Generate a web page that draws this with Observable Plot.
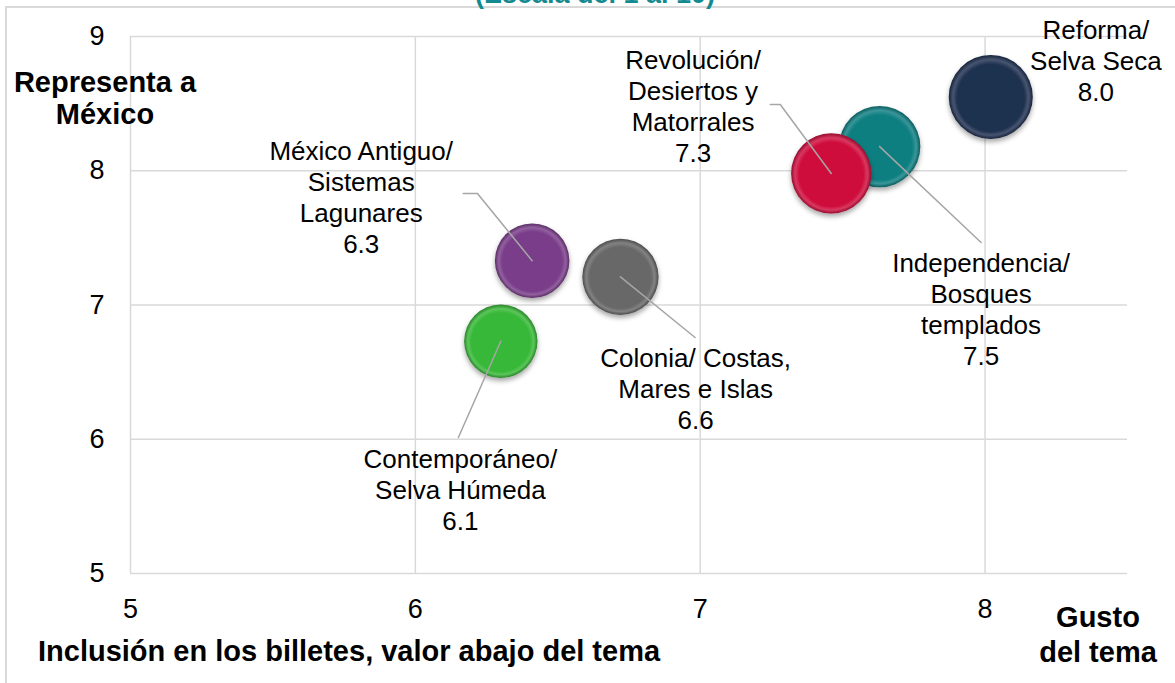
<!DOCTYPE html>
<html><head><meta charset="utf-8">
<script src="https://cdn.jsdelivr.net/npm/d3@7"></script>
<script src="https://cdn.jsdelivr.net/npm/@observablehq/plot@0.6"></script>
<style>
body{margin:0;background:#fff;font-family:Arial,"Liberation Sans",sans-serif;}
#wrap{position:relative;width:1175px;height:683px;overflow:hidden;}
.frame{position:absolute;left:5px;top:6px;right:-5px;bottom:-5px;border-left:2px solid #d9d9d9;border-top:2px solid #d9d9d9;}
.t{position:absolute;color:#000;font-weight:bold;white-space:nowrap;line-height:1;}
#chart{position:absolute;left:0;top:0;}
</style></head>
<body>
<div id="wrap">
  <div class="frame"></div>
  <div class="t" style="left:595px;top:-19px;transform:translateX(-50%);font-size:27px;color:#138a8f;">(Escala del 1 al 10)</div>
  <div id="chart"></div>
  <div class="t" style="left:105px;top:66px;transform:translateX(-50%);font-size:29px;text-align:center;line-height:32px;">Representa a<br>México</div>
  <div class="t" style="left:38px;top:637px;font-size:29px;">Inclusión en los billetes, valor abajo del tema</div>
  <div class="t" style="left:1098px;top:600px;transform:translateX(-50%);font-size:29px;text-align:center;line-height:35px;">Gusto<br>del tema</div>
</div>
<script>
// Data (draw order: red drawn over teal)
const temas = [
  "México Antiguo/\nSistemas\nLagunares",
  "Colonia/ Costas,\nMares e Islas",
  "Contemporáneo/\nSelva Húmeda",
  "Independencia/\nBosques\ntemplados",
  "Revolución/\nDesiertos y\nMatorrales",
  "Reforma/\nSelva Seca"
];
const gusto      = [6.41, 6.72, 6.30, 7.63, 7.46, 8.02];   // x
const representa = [7.33, 7.21, 6.73, 8.18, 7.98, 8.55];   // y
const inclusion  = [6.3, 6.6, 6.1, 7.5, 7.3, 8.0];         // bubble size / value shown
const colores    = ["#7a3d8a", "#676767", "#37b837", "#0e7f81", "#cf0e3d", "#1f3050"];

// Annotation placement (data units)
const etiquetaX = [5.81, 6.984, 6.158, 7.986, 6.975, 8.389];
const etiquetaY = [7.81, 6.382, 5.63, 6.974, 8.486, 8.825];
const guiaX = [6.168, 6.982, 6.151, 7.986, 7.246, null];
const guiaY = [7.83, 6.758, 6.013, 7.466, 8.493, null];
const codoX = [6.218, null, null, null, 7.281, null];

const data = temas.map((t, i) => ({
  tema: t, x: gusto[i], y: representa[i], inc: inclusion[i],
  lx: etiquetaX[i], ly: etiquetaY[i]
}));
const guias = [];
temas.forEach((t, i) => {
  if (guiaX[i] == null) return;
  guias.push({k: i, x: guiaX[i], y: guiaY[i]});
  if (codoX[i] != null) guias.push({k: i, x: codoX[i], y: guiaY[i]});
  guias.push({k: i, x: gusto[i], y: representa[i]});
});

const plot = Plot.plot({
  width: 1175, height: 683,
  marginLeft: 130, marginRight: 48, marginTop: 36, marginBottom: 110,
  style: {fontFamily: "Arial, 'Liberation Sans', sans-serif", color: "#000", background: "transparent"},
  x: {domain: [5, 8.5]},
  y: {domain: [5, 9]},
  r: {domain: [0, 8], range: [0, 42]},
  color: {domain: temas, range: temas.map((t, i) => `url(#g${i})`)},
  marks: [
    Plot.gridX([5, 6, 7, 8], {stroke: "#d9d9d9", strokeOpacity: 1, strokeWidth: 1.5}),
    Plot.gridY([5, 6, 7, 8, 9], {stroke: "#d9d9d9", strokeOpacity: 1, strokeWidth: 1.5}),
    Plot.axisX([5, 6, 7, 8], {tickSize: 0, tickPadding: 25, fontSize: 27, label: null, tickFormat: d3.format("d")}),
    Plot.axisY([5, 6, 7, 8, 9], {tickSize: 0, tickPadding: 26, fontSize: 27, label: null, tickFormat: d3.format("d")}),
    Plot.dot(data, {x: "x", y: "y", r: "inc", fill: "tema", stroke: null}),
    Plot.line(guias, {x: "x", y: "y", z: "k", stroke: "#a6a6a6", strokeWidth: 1.5}),
    Plot.text(data, {x: "lx", y: "ly", text: d => d.tema + "\n" + d.inc.toFixed(1),
      fontSize: 26, lineHeight: 1.19, lineAnchor: "middle", fill: "#000"})
  ]
});

const defs = document.createElementNS("http://www.w3.org/2000/svg", "defs");
let html = `<filter id="sh" x="-30%" y="-30%" width="160%" height="170%">
  <feDropShadow dx="0" dy="3" stdDeviation="2.5" flood-color="#000" flood-opacity="0.35"/></filter>`;
colores.forEach((c, i) => {
  const base = d3.color(c);
  const dark = base.darker(0.9).formatHex();
  const light = d3.interpolateRgb(c, "#ffffff")(0.18);
  html += `<radialGradient id="g${i}" cx="50%" cy="50%" r="50%" fx="50%" fy="56%">
    <stop offset="0%" stop-color="${c}"/>
    <stop offset="80%" stop-color="${c}"/>
    <stop offset="90%" stop-color="${light}"/>
    <stop offset="100%" stop-color="${dark}"/>
  </radialGradient>`;
});
defs.innerHTML = html;
plot.insertBefore(defs, plot.firstChild);
plot.querySelectorAll("circle").forEach(c => c.setAttribute("filter", "url(#sh)"));
document.getElementById("chart").appendChild(plot);
</script>
</body></html>
